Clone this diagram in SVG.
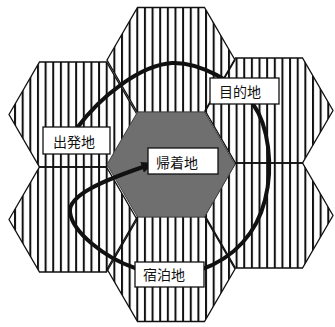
<svg xmlns="http://www.w3.org/2000/svg" width="335" height="327" viewBox="0 0 335 327">
<style>
.hex{fill:url(#stripes);stroke:#111;stroke-width:1.3}
.core{fill:#6f6f6f;stroke:#444;stroke-width:1}
.box{fill:#fff;stroke:#111;stroke-width:1.3}
.lbl{font-family:"Noto Sans CJK JP","Noto Sans CJK SC",sans-serif;font-size:14px;fill:#111}
.route{fill:none;stroke:#111;stroke-width:4;stroke-linecap:round}
</style>
<defs>
<pattern id="stripes" patternUnits="userSpaceOnUse" x="6.4" y="0" width="7.64" height="10">
<rect x="0" y="0" width="2" height="10" fill="#111"/>
</pattern>
<marker id="arrow" markerUnits="userSpaceOnUse" markerWidth="14" markerHeight="12" refX="1" refY="6" orient="auto">
<path d="M0,0.5 L13,6 L0,11.5 Z" fill="#111"/>
</marker>
</defs>
<rect width="335" height="327" fill="#fff"/>
<g id="hex-top"><polygon class="hex" points="107,60 137.5,7.5 204.5,7.5 235,60 204.5,112.5 137.5,112.5"/></g>
<g id="hex-upper-left"><polygon class="hex" points="9,114.5 39.5,62 106.5,62 137,114.5 106.5,167 39.5,167"/></g>
<g id="hex-lower-left"><polygon class="hex" points="9,219.5 39.5,167 106.5,167 137,219.5 106.5,272 39.5,272"/></g>
<g id="hex-upper-right"><polygon class="hex" points="205,110.5 235.5,58 302.5,58 333,110.5 302.5,163 235.5,163"/></g>
<g id="hex-lower-right"><polygon class="hex" points="205,215.5 235.5,163 302.5,163 333,215.5 302.5,268 235.5,268"/></g>
<g id="hex-bottom"><polygon class="hex" points="107,269 137.5,216.5 204.5,216.5 235,269 204.5,321.5 137.5,321.5"/></g>
<g id="hex-center"><polygon class="core" points="107,164.5 137.5,112 204.5,112 235,164.5 204.5,217 137.5,217"/></g>
<g id="connectors">
<path class="route" marker-end="url(#arrow)" d="M77,128 C100,97 140,65 172,63 C200,62 235,82 253,104 C268,125 274,165 265,200 C257,232 235,258 200,270 L135,268 C105,258 72,232 70,212 C68,195 105,180 143,167"/>
</g>
<g id="label-departure"><rect class="box" x="43" y="127" width="67" height="27"/><text class="lbl" x="53" y="147">出発地</text></g>
<g id="label-destination"><rect class="box" x="210" y="78" width="69" height="26"/><text class="lbl" x="219" y="97">目的地</text></g>
<g id="label-return"><rect class="box" x="148" y="148" width="70" height="26"/><text class="lbl" x="156" y="167.5">帰着地</text></g>
<g id="label-lodging"><rect class="box" x="135" y="262" width="69" height="25"/><text class="lbl" x="143" y="280">宿泊地</text></g>
</svg>
